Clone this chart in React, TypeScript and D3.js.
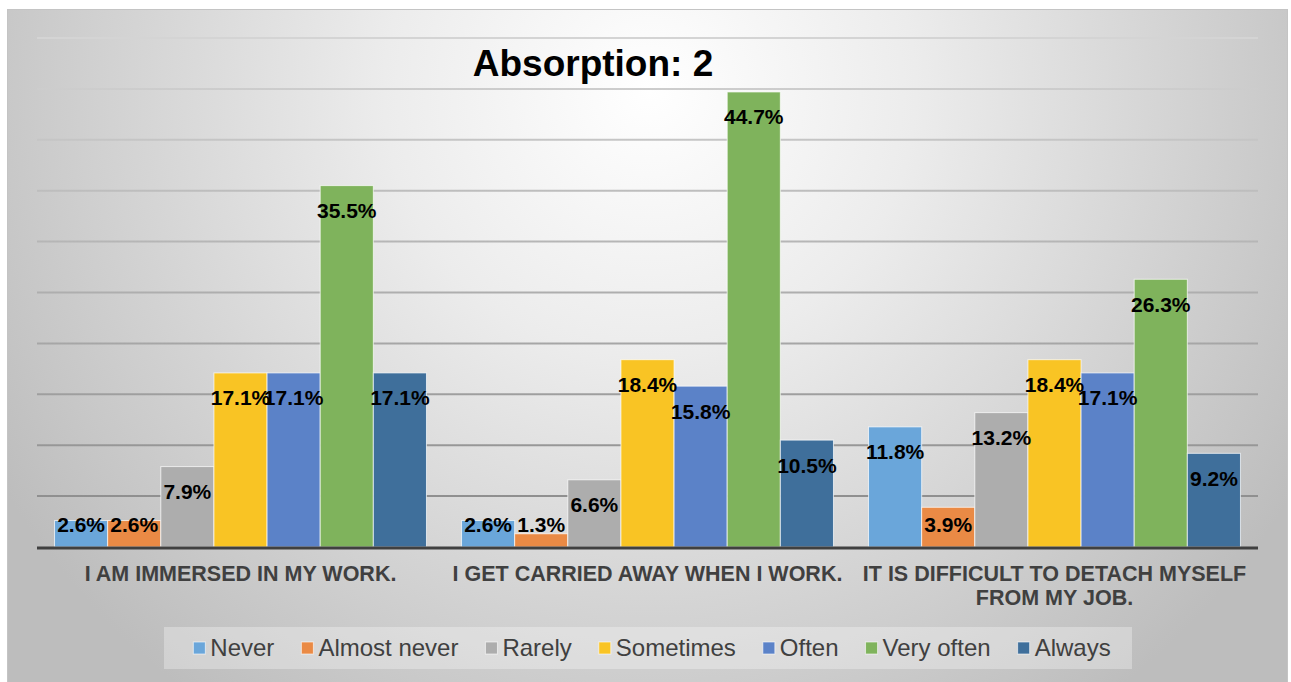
import React, { useEffect, useRef } from "react";
import * as d3 from "d3";

const title = "Absorption: 2";
const categories = [
  "I AM IMMERSED IN MY WORK.",
  "I GET CARRIED AWAY WHEN I WORK.",
  "IT IS DIFFICULT TO DETACH MYSELF FROM MY JOB.",
];
const seriesNames = ["Never", "Almost never", "Rarely", "Sometimes", "Often", "Very often", "Always"];
const seriesColors = ["#6aa6da", "#ea8a45", "#adadad", "#f9c424", "#5b82c8", "#7fb35c", "#3f6f9b"];
const neverValues = [2.6, 2.6, 11.8];
const almostNeverValues = [2.6, 1.3, 3.9];
const rarelyValues = [7.9, 6.6, 13.2];
const sometimesValues = [17.1, 18.4, 18.4];
const oftenValues = [17.1, 15.8, 17.1];
const veryOftenValues = [35.5, 44.7, 26.3];
const alwaysValues = [17.1, 10.5, 9.2];
const yTicks = [0, 5, 10, 15, 20, 25, 30, 35, 40, 45, 50];

const seriesValues = [
  neverValues,
  almostNeverValues,
  rarelyValues,
  sometimesValues,
  oftenValues,
  veryOftenValues,
  alwaysValues,
];

const W = 1291;
const H = 682;
const FONT = "'Liberation Sans', Arial, Helvetica, sans-serif";

export default function App() {
  const ref = useRef<SVGSVGElement | null>(null);

  useEffect(() => {
    document.body.style.margin = "0";
    const svg = d3.select(ref.current);
    svg.selectAll("*").remove();

    const defs = svg.append("defs");
    const bg = defs
      .append("radialGradient")
      .attr("id", "bgGrad")
      .attr("gradientUnits", "userSpaceOnUse")
      .attr("cx", 650)
      .attr("cy", 90)
      .attr("r", 760);
    bg.append("stop").attr("offset", "0").attr("stop-color", "#ffffff");
    bg.append("stop").attr("offset", "0.35").attr("stop-color", "#ececec");
    bg.append("stop").attr("offset", "1").attr("stop-color", "#bdbdbd");

    const plotLeft = 37;
    const plotRight = 1258;
    const plotTop = 38;
    const plotBottom = 547;

    const gg = defs
      .append("linearGradient")
      .attr("id", "gridGrad")
      .attr("gradientUnits", "userSpaceOnUse")
      .attr("x1", 0)
      .attr("y1", plotTop)
      .attr("x2", 0)
      .attr("y2", plotBottom);
    gg.append("stop").attr("offset", "0").attr("stop-color", "#d4d4d4");
    gg.append("stop").attr("offset", "1").attr("stop-color", "#888888");

    svg
      .append("rect")
      .attr("x", 7.5)
      .attr("y", 9.5)
      .attr("width", 1280)
      .attr("height", 680)
      .attr("fill", "url(#bgGrad)")
      .attr("stroke", "#c4c4c4")
      .attr("stroke-width", 1);

    const y = d3.scaleLinear().domain([0, 50]).range([plotBottom, plotTop]);
    const x0 = d3.scaleBand<string>().domain(categories).range([plotLeft, plotRight]).padding(0);
    const x1 = d3
      .scaleBand<string>()
      .domain(seriesNames)
      .range([0, x0.bandwidth()])
      .paddingInner(0)
      .paddingOuter(0.33);

    svg
      .append("g")
      .selectAll("line")
      .data(yTicks.filter((t) => t > 0))
      .join("line")
      .attr("x1", plotLeft)
      .attr("x2", plotRight)
      .attr("y1", (d) => y(d))
      .attr("y2", (d) => y(d) + 0.001)
      .attr("stroke", "url(#gridGrad)")
      .attr("stroke-width", 2);

    svg
      .append("text")
      .attr("x", 593)
      .attr("y", 76)
      .attr("text-anchor", "middle")
      .attr("font-family", FONT)
      .attr("font-weight", "bold")
      .attr("font-size", 37)
      .attr("fill", "#000")
      .text(title);

    const groups = svg
      .append("g")
      .selectAll("g")
      .data(categories)
      .join("g")
      .attr("transform", (d) => `translate(${x0(d)},0)`);

    groups
      .selectAll("rect")
      .data((_, ci) => seriesNames.map((s, si) => ({ s, si, v: seriesValues[si][ci] })))
      .join("rect")
      .attr("x", (d) => x1(d.s)!)
      .attr("width", x1.bandwidth())
      .attr("y", (d) => y(d.v))
      .attr("height", (d) => y(0) - y(d.v))
      .attr("fill", (d) => seriesColors[d.si])
      .attr("stroke", "rgba(255,255,255,0.7)")
      .attr("stroke-width", 1);

    svg
      .append("line")
      .attr("x1", plotLeft)
      .attr("x2", plotRight)
      .attr("y1", y(0) + 1)
      .attr("y2", y(0) + 1)
      .attr("stroke", "#404040")
      .attr("stroke-width", 3);

    groups
      .selectAll("text")
      .data((_, ci) => seriesNames.map((s, si) => ({ s, si, v: seriesValues[si][ci] })))
      .join("text")
      .attr("x", (d) => x1(d.s)! + x1.bandwidth() / 2)
      .attr("y", (d) => Math.min(y(d.v) + 25, y(0) - 23) + 7.5)
      .attr("text-anchor", "middle")
      .attr("font-family", FONT)
      .attr("font-weight", "bold")
      .attr("font-size", 21)
      .attr("fill", "#000")
      .text((d) => `${d.v.toFixed(1)}%`);

    categories.forEach((c) => {
      const cxm = x0(c)! + x0.bandwidth() / 2;
      const t = svg
        .append("text")
        .attr("x", cxm)
        .attr("y", 581)
        .attr("text-anchor", "middle")
        .attr("font-family", FONT)
        .attr("font-weight", "bold")
        .attr("font-size", 21.5)
        .attr("fill", "#404040");
      const words = c.split(" ");
      let line: string[] = [];
      let tspan = t.append("tspan").attr("x", cxm).attr("dy", 0);
      words.forEach((w) => {
        line.push(w);
        tspan.text(line.join(" "));
        if ((tspan.node() as SVGTSpanElement).getComputedTextLength() > x0.bandwidth() - 2 && line.length > 1) {
          line.pop();
          tspan.text(line.join(" "));
          line = [w];
          tspan = t.append("tspan").attr("x", cxm).attr("dy", 24).text(w);
        }
      });
    });

    svg
      .append("rect")
      .attr("x", 164)
      .attr("y", 627)
      .attr("width", 968)
      .attr("height", 42)
      .attr("fill", "rgba(255,255,255,0.3)");

    const lg = svg.append("g");
    const items = lg.selectAll("g").data(seriesNames).join("g");
    items
      .append("rect")
      .attr("width", 12)
      .attr("height", 12)
      .attr("y", 642)
      .attr("fill", (_, i) => seriesColors[i])
      .attr("stroke", "rgba(255,255,255,0.6)")
      .attr("stroke-width", 1);
    items
      .append("text")
      .attr("x", 17)
      .attr("y", 656)
      .attr("font-family", FONT)
      .attr("font-size", 24)
      .attr("fill", "#404040")
      .text((d) => d);
    const widths: number[] = [];
    items.each(function () {
      const tn = d3.select(this).select("text").node() as SVGTextElement;
      widths.push(17 + tn.getComputedTextLength());
    });
    const gap = 27;
    const total = d3.sum(widths) + gap * (widths.length - 1);
    let cx = 652 - total / 2;
    items.attr("transform", (_, i) => {
      const xx = cx;
      cx += widths[i] + gap;
      return `translate(${xx},0)`;
    });
  }, []);

  return (
    <div style={{ position: "absolute", left: 0, top: 0 }}>
      <svg ref={ref} width={W} height={H} style={{ display: "block" }} />
    </div>
  );
}
